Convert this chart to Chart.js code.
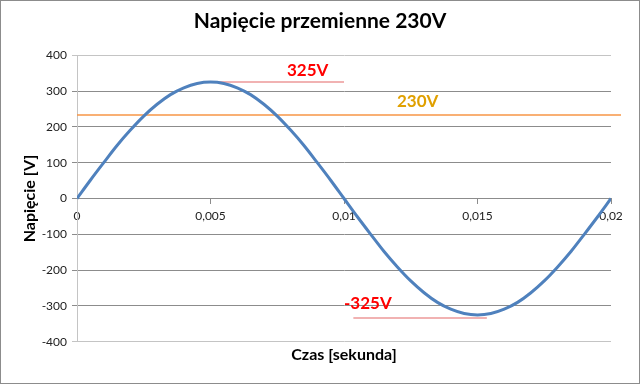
<!DOCTYPE html>
<html>
<head>
<meta charset="utf-8">
<script src="https://cdn.jsdelivr.net/npm/chart.js@4/dist/chart.umd.min.js"></script>
<style>
    body { margin: 0; background: #fff; }
    #wrap { width: 640px; height: 384px; }
</style>
</head>
<body>
<div id="wrap"><canvas id="sineChart" width="640" height="384"></canvas></div>
<script>
// czas [s] i napiecie [V]
const timeValues = [
    0, 0.0005, 0.001, 0.0015, 0.002, 0.0025, 0.003, 0.0035, 0.004, 0.0045,
    0.005, 0.0055, 0.006, 0.0065, 0.007, 0.0075, 0.008, 0.0085, 0.009, 0.0095,
    0.01, 0.0105, 0.011, 0.0115, 0.012, 0.0125, 0.013, 0.0135, 0.014, 0.0145,
    0.015, 0.0155, 0.016, 0.0165, 0.017, 0.0175, 0.018, 0.0185, 0.019, 0.0195,
    0.02
];
const voltageValues = [
    0, 51, 100, 148, 191, 230, 263, 290, 309, 321,
    325, 321, 309, 290, 263, 230, 191, 148, 100, 51,
    0, -51, -100, -148, -191, -230, -263, -290, -309, -321,
    -325, -321, -309, -290, -263, -230, -191, -148, -100, -51,
    0
];
const xTicks = [0, 0.005, 0.01, 0.015, 0.02];
const yTicks = [-400, -300, -200, -100, 0, 100, 200, 300, 400];
const peakValues = [325, -325];
const peakLabels = ['325V', '-325V'];
const rmsValue = 234;
const rmsLabel = '230V';

const points = timeValues.map((t, i) => ({ x: t, y: voltageValues[i] }));

// linie i napisy 325V / 230V
const annotations = {
    id: 'annotations',
    afterLayout(chart) {
        // tytul wysrodkowany na calym obrazku
        if (chart.titleBlock) {
            chart.titleBlock.left = 0;
            chart.titleBlock.right = chart.width;
        }
    },
    beforeDatasetsDraw(chart) {
        const { ctx, chartArea, scales: { x, y } } = chart;
        ctx.save();
        ctx.lineWidth = 1.3;
        ctx.strokeStyle = '#F79646';
        let yr = Math.round(y.getPixelForValue(rmsValue));
        ctx.beginPath();
        ctx.moveTo(chartArea.left, yr);
        ctx.lineTo(chartArea.right + 10, yr);
        ctx.stroke();

        ctx.lineWidth = 1.5;
        ctx.strokeStyle = 'rgba(230, 110, 110, 0.7)';
        let y1 = y.getPixelForValue(peakValues[0]);
        ctx.beginPath();
        ctx.moveTo(x.getPixelForValue(0.005), y1);
        ctx.lineTo(x.getPixelForValue(0.01), y1);
        ctx.stroke();
        let y2 = y.getPixelForValue(peakValues[1]) + 3;
        ctx.beginPath();
        ctx.moveTo(x.getPixelForValue(0.01035), y2);
        ctx.lineTo(x.getPixelForValue(0.01535), y2);
        ctx.stroke();
        ctx.restore();
    },
    afterDatasetsDraw(chart) {
        const { ctx, scales: { x, y } } = chart;
        ctx.save();
        ctx.font = 'bold 17px Lato';
        ctx.textBaseline = 'middle';
        ctx.textAlign = 'left';
        ctx.fillStyle = '#FF0000';
        ctx.fillText(peakLabels[0], 287, y.getPixelForValue(peakValues[0]) - 12);
        ctx.fillText(peakLabels[1], 344, y.getPixelForValue(peakValues[1]) - 11);
        ctx.fillStyle = '#E0A000';
        ctx.fillText(rmsLabel, 397, y.getPixelForValue(rmsValue) - 13);
        ctx.restore();
    },
    afterDraw(chart) {
        const ctx = chart.ctx;
        ctx.save();
        ctx.strokeStyle = '#8c8c8c';
        ctx.lineWidth = 1;
        ctx.strokeRect(0.5, 0.5, chart.width - 1, chart.height - 1);
        ctx.restore();
    }
};

var ctx = document.getElementById('sineChart').getContext('2d');
var sineChart = new Chart(ctx, {
    type: 'scatter',
    data: {
        datasets: [{
            label: 'Napięcie',
            data: points,
            showLine: true,
            borderColor: '#4F81BD',
            borderWidth: 3,
            pointRadius: 0,
            tension: 0.4,
            cubicInterpolationMode: 'monotone'
        }]
    },
    options: {
        responsive: false,
        animation: false,
        layout: { padding: { left: 0, right: 29, top: 0, bottom: 0 } },
        plugins: {
            legend: { display: false },
            tooltip: { enabled: false },
            title: {
                display: true,
                text: 'Napięcie przemienne 230V',
                color: '#000',
                font: { family: 'Lato', size: 21, weight: 'bold' },
                padding: { top: 9, bottom: 21 }
            },
            subtitle: {
                display: true,
                position: 'bottom',
                fullSize: false,
                text: 'Czas [sekunda]',
                color: '#000',
                font: { family: 'Lato', size: 16, weight: 'bold' },
                padding: { top: 3, bottom: 20 }
            }
        },
        scales: {
            x: {
                type: 'linear',
                position: { y: 0 },
                min: 0,
                max: 0.02,
                afterBuildTicks: (scale) => { scale.ticks = xTicks.map(v => ({ value: v })); },
                ticks: {
                    color: '#222',
                    font: { family: 'Lato', size: 12 },
                    padding: 5,
                    maxRotation: 0,
                    callback: (v) => String(v).replace('.', ',')
                },
                grid: { drawOnChartArea: false, color: '#8c8c8c', tickLength: 5 },
                border: { color: '#8c8c8c' }
            },
            y: {
                min: -400,
                max: 400,
                afterBuildTicks: (scale) => { scale.ticks = yTicks.map(v => ({ value: v })); },
                afterFit: (scale) => { scale.width = 77; },
                ticks: {
                    color: '#222',
                    font: { family: 'Lato', size: 12 },
                    padding: 5
                },
                grid: {
                    color: (c) => (c.tick && Math.abs(c.tick.value) === 400) ? '#c4c4c4' : '#8c8c8c',
                    tickLength: 5
                },
                border: { color: '#c4c4c4' },
                title: {
                    display: true,
                    text: 'Napięcie [V]',
                    color: '#000',
                    font: { family: 'Lato', size: 16, weight: 'bold' },
                    padding: { top: 20, bottom: 0 }
                }
            }
        }
    },
    plugins: [annotations]
});
</script>
</body>
</html>
